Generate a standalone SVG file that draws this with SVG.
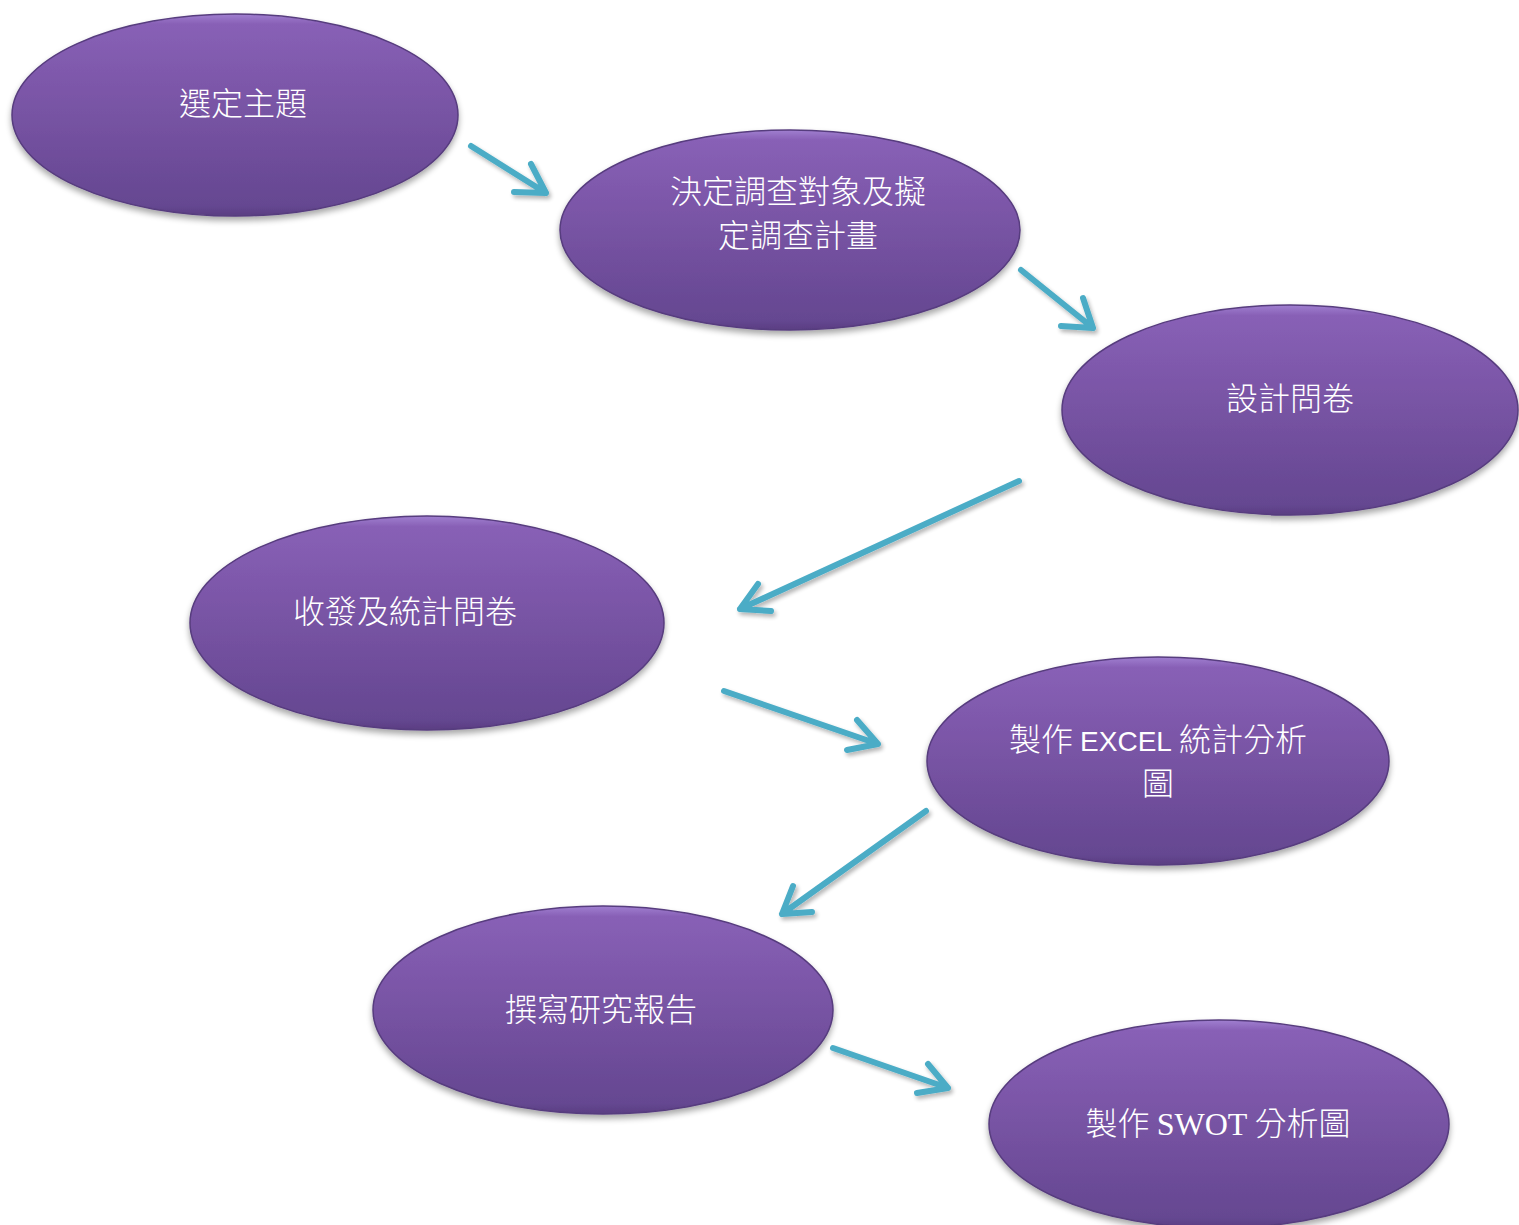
<svg xmlns="http://www.w3.org/2000/svg" width="1519" height="1225" viewBox="0 0 1519 1225">
<defs>
<linearGradient id="g" x1="0" y1="0" x2="0" y2="1">
<stop offset="0" stop-color="#a07fd0"/>
<stop offset="0.05" stop-color="#8860b6"/>
<stop offset="0.5" stop-color="#7753a3"/>
<stop offset="0.95" stop-color="#654791"/>
<stop offset="1" stop-color="#5a3e82"/>
</linearGradient>
<filter id="sh" x="-10%" y="-10%" width="120%" height="130%">
<feGaussianBlur in="SourceAlpha" stdDeviation="3"/>
<feOffset dx="0" dy="4"/>
<feComponentTransfer><feFuncA type="linear" slope="0.35"/></feComponentTransfer>
<feMerge><feMergeNode/><feMergeNode in="SourceGraphic"/></feMerge>
</filter>
<filter id="ash" x="-20%" y="-20%" width="140%" height="140%">
<feGaussianBlur in="SourceAlpha" stdDeviation="2"/>
<feOffset dx="2" dy="3"/>
<feComponentTransfer><feFuncA type="linear" slope="0.3"/></feComponentTransfer>
<feMerge><feMergeNode/><feMergeNode in="SourceGraphic"/></feMerge>
</filter>
</defs>
<style>
.n{fill:url(#g);stroke:#573c7e;stroke-width:1.5;filter:url(#sh)}
.t{fill:#ffffff;font-family:"Noto Sans CJK TC","Noto Sans CJK SC",sans-serif;font-weight:300;font-size:32px;text-anchor:middle}
.e{font-family:"Liberation Sans",sans-serif;font-weight:400;font-size:28px}
.s{font-family:"Liberation Serif",serif}
.a{fill:none;stroke:#4bacc6;stroke-width:6;stroke-linecap:round;stroke-linejoin:round}
</style>
<rect width="1519" height="1225" fill="#ffffff"/>
<g id="n1"><ellipse class="n" cx="235" cy="115" rx="223" ry="101"/><text class="t" x="243" y="115">選定主題</text></g>
<g id="n2"><ellipse class="n" cx="790" cy="230" rx="230" ry="100"/><text class="t" x="798" y="203">決定調查對象及擬</text><text class="t" x="798" y="247">定調查計畫</text></g>
<g id="n3"><ellipse class="n" cx="1290" cy="410" rx="228" ry="105"/><text class="t" x="1290" y="410">設計問卷</text></g>
<g id="n4"><ellipse class="n" cx="427" cy="623" rx="237" ry="107"/><text class="t" x="405" y="623">收發及統計問卷</text></g>
<g id="n5"><ellipse class="n" cx="1158" cy="761" rx="231" ry="104"/><text class="t" x="1158" y="751">製作 <tspan class="e">EXCEL</tspan> 統計分析</text><text class="t" x="1158" y="795">圖</text></g>
<g id="n6"><ellipse class="n" cx="603" cy="1010" rx="230" ry="104"/><text class="t" x="601" y="1021">撰寫研究報告</text></g>
<g id="n7"><ellipse class="n" cx="1219" cy="1124" rx="230" ry="104"/><text class="t" x="1218" y="1135">製作 <tspan class="s">SWOT</tspan> 分析圖</text></g>
<g id="connectors" filter="url(#ash)">
<path class="a" d="M471,146 L546,193 M514,192 L546,193 L531,164"/>
<path class="a" d="M1021,270 L1093,328 M1061,326 L1093,328 L1083,298"/>
<path class="a" d="M1019,481 L740,609 M771,611 L740,609 L758,584"/>
<path class="a" d="M724,691 L878,744 M847,750 L878,744 L857,720"/>
<path class="a" d="M926,811 L782,914 M812,912 L782,914 L793,886"/>
<path class="a" d="M833,1048 L948,1088 M917,1093 L948,1088 L928,1064"/>
</g>
</svg>
